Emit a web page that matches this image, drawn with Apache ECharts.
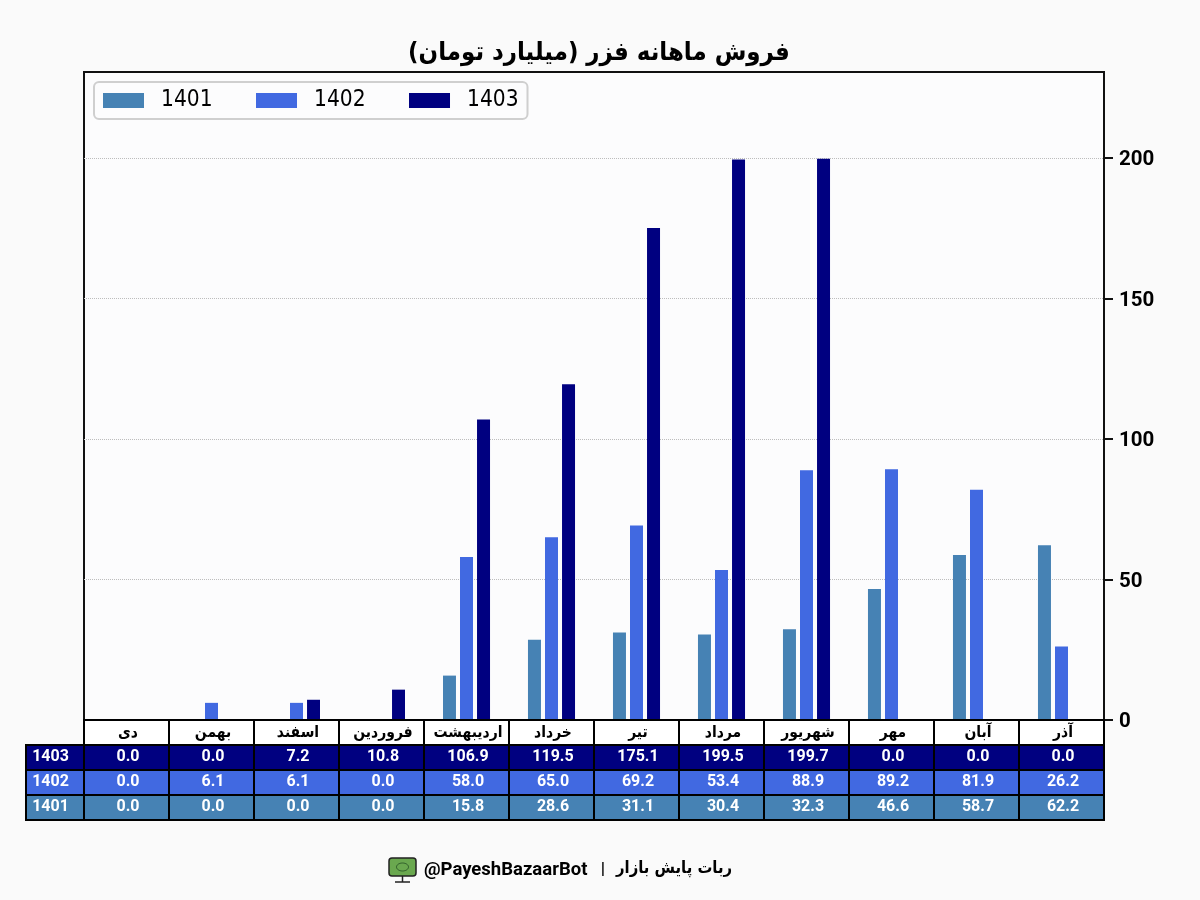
<!DOCTYPE html>
<html lang="fa">
<head>
<meta charset="UTF-8">
<title>ECharts</title>
<style type="text/css">
    html, body {margin: 0; background: #fafafa;}
    #main {width: 1200px; height: 900px;}
</style>
<script src="https://cdn.jsdelivr.net/npm/echarts@6/dist/echarts.min.js"></script>
</head>
<body>
<div id="main"></div>
<script type="text/javascript">
    var months = ['دی', 'بهمن', 'اسفند', 'فروردین', 'اردیبهشت', 'خرداد', 'تیر', 'مرداد', 'شهریور', 'مهر', 'آبان', 'آذر'];
    var values1401 = [0.0, 0.0, 0.0, 0.0, 15.8, 28.6, 31.1, 30.4, 32.3, 46.6, 58.7, 62.2];
    var values1402 = [0.0, 6.1, 6.1, 0.0, 58.0, 65.0, 69.2, 53.4, 88.9, 89.2, 81.9, 26.2];
    var values1403 = [0.0, 0.0, 7.2, 10.8, 106.9, 119.5, 175.1, 199.5, 199.7, 0.0, 0.0, 0.0];
    var yearNames = ['1401', '1402', '1403'];
    var yearColors = ['#4682b4', '#4169e1', '#000080'];
    var yTicks = [0, 50, 100, 150, 200];
    var titleText = '\u200fفروش ماهانه فزر (میلیارد تومان)\u200f';
    var footerLatin = '@PayeshBazaarBot';
    var footerPersian = 'ربات پایش بازار';

    var faFont = '"DejaVu Sans Condensed", "DejaVu Sans", sans-serif';
    var numFont = 'Roboto, sans-serif';
    var yearValues = [values1401, values1402, values1403];
    var tableRows = yearNames.concat(['header']);

    // table cells are rows of the small grids below the bars
    var bodyCells = [];
    var labelCells = [];
    months.forEach(function (m, i) {
        bodyCells.push([i, 3, m]);
        yearValues.forEach(function (vals, r) {
            bodyCells.push([i, r, vals[i].toFixed(1)]);
        });
    });
    yearNames.forEach(function (name, r) {
        labelCells.push([0, r, name]);
    });

    function renderCell(params, api) {
        var rowIdx = api.value(1);
        var center = api.coord([api.value(0), rowIdx]);
        var size = api.size([1, 1]);
        var isHeader = rowIdx === 3;
        var isLabel = params.seriesName === 'labels';
        var text = (isLabel ? labelCells : bodyCells)[params.dataIndex][2];
        return {
            type: 'group',
            children: [{
                type: 'rect',
                shape: {x: center[0] - size[0] / 2, y: center[1] - size[1] / 2, width: size[0], height: size[1]},
                style: {fill: isHeader ? '#ffffff' : yearColors[rowIdx], stroke: '#000000', lineWidth: 2}
            }, {
                type: 'text',
                style: {
                    text: text,
                    x: center[0] + (isLabel ? -4.5 : 1.5),
                    y: center[1] - (isHeader ? 0 : 0.5),
                    align: 'center',
                    verticalAlign: 'middle',
                    fill: isHeader ? '#000000' : '#ffffff',
                    font: isHeader ? 'bold 15.5px ' + faFont : 'bold 16px ' + numFont
                }
            }]
        };
    }

    var barSeries = yearNames.map(function (name, i) {
        return {
            name: name,
            type: 'bar',
            xAxisIndex: 0,
            yAxisIndex: 0,
            data: yearValues[i],
            barWidth: 13,
            barGap: '31%',
            itemStyle: {color: yearColors[i]}
        };
    });

    var option = {
        backgroundColor: '#fafafa',
        animation: false,
        title: {
            text: titleText,
            left: 594,
            top: 35,
            textAlign: 'center',
            textStyle: {fontFamily: faFont, fontWeight: 'bold', fontSize: 25.5, color: '#000000'}
        },
        legend: {
            data: yearNames,
            left: 94,
            top: 82,
            orient: 'horizontal',
            icon: 'rect',
            itemWidth: 41,
            itemHeight: 15,
            itemGap: 43.5,
            padding: [7, 9],
            borderColor: '#cfcfcf',
            borderWidth: 2,
            borderRadius: 5,
            selectedMode: false,
            textStyle: {
                fontFamily: faFont,
                fontSize: 22.5,
                color: '#000000',
                padding: [2, 0, 0, 12]
            }
        },
        grid: [
            {left: 84, top: 72, width: 1020, height: 648, show: true, borderColor: '#111111', borderWidth: 2, backgroundColor: '#fcfcfd'},
            {left: 84, top: 720, width: 1020, height: 100},
            {left: 26, top: 720, width: 58, height: 100}
        ],
        xAxis: [
            {gridIndex: 0, type: 'category', data: months, axisLabel: {show: false}, axisTick: {show: false}, axisLine: {show: false}},
            {gridIndex: 1, type: 'category', data: months, show: false},
            {gridIndex: 2, type: 'category', data: ['row'], show: false}
        ],
        yAxis: [
            {
                gridIndex: 0,
                type: 'value',
                position: 'right',
                min: 0,
                max: 230.6,
                interval: 50,
                axisLine: {show: false},
                axisTick: {show: true, length: 9, customValues: yTicks, lineStyle: {color: '#111111', width: 2}},
                axisLabel: {
                    customValues: yTicks,
                    margin: 15,
                    formatter: '{tick|{value}}',
                    rich: {
                        tick: {
                            padding: [4, 0, 0, 0],
                            fontFamily: numFont,
                            fontWeight: 'bold',
                            fontSize: 20.5,
                            color: '#000000'
                        }
                    }
                },
                splitLine: {lineStyle: {color: '#bdbdbd', width: 1, type: 'dotted'}}
            },
            {gridIndex: 1, type: 'category', data: tableRows, show: false},
            {gridIndex: 2, type: 'category', data: tableRows, show: false}
        ],
        series: barSeries.concat([
            {name: 'cells', type: 'custom', xAxisIndex: 1, yAxisIndex: 1, data: bodyCells, renderItem: renderCell, silent: true, clip: false, z: 5},
            {name: 'labels', type: 'custom', xAxisIndex: 2, yAxisIndex: 2, data: labelCells, renderItem: renderCell, silent: true, clip: false, z: 5}
        ]),
        graphic: [
            // footer logo and caption
            {type: 'rect', shape: {x: 389, y: 858, width: 27, height: 18, r: 3}, style: {fill: '#6aa84f', stroke: '#222222', lineWidth: 1.5}},
            {type: 'ellipse', shape: {cx: 402.5, cy: 867, rx: 6, ry: 4}, style: {fill: 'none', stroke: '#2f5d2a', lineWidth: 1}},
            {type: 'line', shape: {x1: 402.5, y1: 876, x2: 402.5, y2: 882}, style: {stroke: '#222222', lineWidth: 1.5}},
            {type: 'line', shape: {x1: 395, y1: 882, x2: 410, y2: 882}, style: {stroke: '#222222', lineWidth: 1.5}},
            {type: 'text', style: {text: footerLatin, x: 424, y: 870, verticalAlign: 'middle', fill: '#000000', font: 'bold 18.5px ' + numFont}},
            {type: 'text', style: {text: '|', x: 603, y: 870, align: 'center', verticalAlign: 'middle', fill: '#000000', font: 'bold 17px ' + numFont}},
            {type: 'text', style: {text: footerPersian, x: 732, y: 869, align: 'right', verticalAlign: 'middle', fill: '#000000', font: 'bold 16.5px ' + faFont}}
        ]
    };

    var myChart = echarts.init(document.getElementById('main'));
    myChart.setOption(option);
</script>
</body>
</html>
